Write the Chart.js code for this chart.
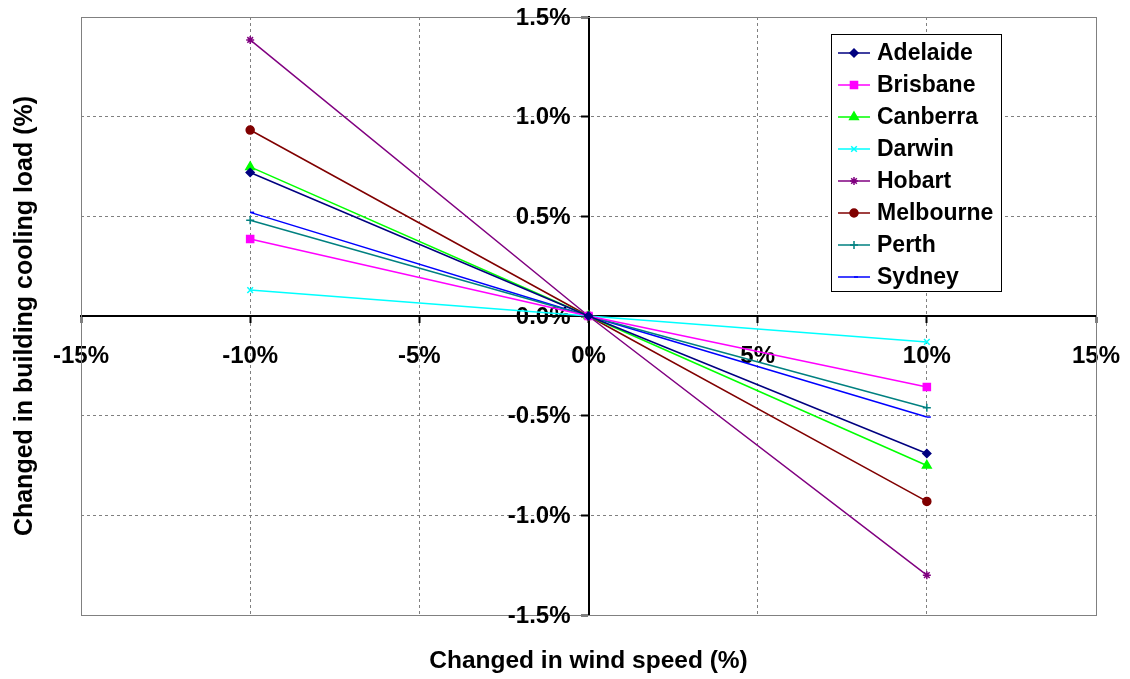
<!DOCTYPE html>
<html>
<head>
<meta charset="utf-8">
<title>Wind speed vs cooling load</title>
<script src="https://cdn.jsdelivr.net/npm/chart.js@4/dist/chart.umd.min.js"></script>
<style>
  html, body { margin: 0; padding: 0; background: #fff; }
  #wrap { width: 1130px; height: 679px; position: relative; }
</style>
</head>
<body>
<div id="wrap"><canvas id="coolingChart"></canvas></div>
<script>
// change in wind speed (%)
const windSpeed = [-10, 0, 10];

// change in building cooling load (%) per city
const adelaide = [0.72, 0, -0.69];
const brisbane = [0.386, 0, -0.356];
const canberra = [0.748, 0, -0.75];
const darwin = [0.13, 0, -0.13];
const hobart = [1.385, 0, -1.30];
const melbourne = [0.933, 0, -0.93];
const perth = [0.48, 0, -0.46];
const sydney = [0.52, 0, -0.507];

const cityNames = ["Adelaide", "Brisbane", "Canberra", "Darwin", "Hobart", "Melbourne", "Perth", "Sydney"];
const cityValues = [adelaide, brisbane, canberra, darwin, hobart, melbourne, perth, sydney];

const xTicks = [-15, -10, -5, 0, 5, 10, 15];
const yTicks = [-1.5, -1.0, -0.5, 0, 0.5, 1.0, 1.5];

// look of each series
const lineColors = ["#000080", "#ff00ff", "#00ff00", "#00ffff", "#800080", "#800000", "#008080", "#0000ff"];
const markerStyles = ["rectRot", "rect", "triangle", "crossRot", "star", "circle", "cross", "dash"];
const markerSizes = [4, 5, 5, 4, 4, 4, 4, 4];

const FONT = "'Liberation Sans', Arial, sans-serif";

function toPoints(vals) {
  return windSpeed.map((x, i) => ({ x: x, y: vals[i] }));
}

const datasets = cityNames.map((name, i) => ({
  label: name,
  data: toPoints(cityValues[i]),
  borderColor: lineColors[i],
  backgroundColor: lineColors[i],
  borderWidth: 1.5,
  pointStyle: markerStyles[i],
  pointRadius: markerSizes[i],
  pointBorderWidth: 1.5,
  showLine: true,
  tension: 0,
}));

////////// plot frame, y tick labels, axis titles and boxed legend
const extras = {
  id: "extras",
  beforeDatasetsDraw(chart) {
    const { ctx, chartArea: a } = chart;
    const xs = chart.scales.x, ys = chart.scales.y;
    ctx.save();
    ctx.strokeStyle = "#808080";
    ctx.lineWidth = 1;
    ctx.strokeRect(a.left + 0.5, a.top + 0.5, a.right - a.left, a.bottom - a.top);

    // y labels sit left of the y axis (which crosses at x = 0)
    const axisX = xs.getPixelForValue(0);
    ctx.fillStyle = "#000";
    ctx.font = "bold 24px " + FONT;
    ctx.textAlign = "right";
    ctx.textBaseline = "middle";
    ys.ticks.forEach((t) => {
      ctx.fillText(t.value.toFixed(1) + "%", axisX - 18, ys.getPixelForValue(t.value) + 1);
    });
    ctx.restore();
  },
  afterDraw(chart) {
    const { ctx, chartArea: a } = chart;
    ctx.save();
    ctx.fillStyle = "#000";
    ctx.textAlign = "center";
    ctx.textBaseline = "middle";
    ctx.font = "bold 24.5px " + FONT;
    ctx.fillText("Changed in wind speed (%)", (a.left + a.right) / 2, 661);

    ctx.font = "bold 25px " + FONT;
    ctx.translate(25, (a.top + a.bottom) / 2);
    ctx.rotate(-Math.PI / 2);
    ctx.fillText("Changed in building cooling load (%)", 0, 0);
    ctx.restore();

    // legend
    const lx = 831, ly = 34, lw = 170, lh = 257;
    ctx.save();
    ctx.fillStyle = "#fff";
    ctx.fillRect(lx, ly, lw, lh);
    ctx.strokeStyle = "#000";
    ctx.lineWidth = 1;
    ctx.strokeRect(lx + 0.5, ly + 0.5, lw, lh);
    ctx.font = "bold 23px " + FONT;
    ctx.textBaseline = "middle";
    ctx.textAlign = "left";
    chart.data.datasets.forEach((ds, i) => {
      const y = ly + 19 + i * 32;
      ctx.strokeStyle = ds.borderColor;
      ctx.lineWidth = 1.5;
      ctx.beginPath();
      ctx.moveTo(lx + 7, y);
      ctx.lineTo(lx + 39, y);
      ctx.stroke();
      ctx.fillStyle = ds.backgroundColor;
      Chart.helpers.drawPoint(ctx, {
        pointStyle: ds.pointStyle,
        radius: ds.pointRadius,
        rotation: 0,
        borderWidth: 1.5,
      }, lx + 23, y);
      ctx.fillStyle = "#000";
      ctx.fillText(ds.label, lx + 46, y + 1);
    });
    ctx.restore();
  },
};

////////////// CHART INITIALIZATION
const ctx = document.getElementById("coolingChart").getContext("2d");

new Chart(ctx, {
  type: "scatter",
  data: { datasets: datasets },
  plugins: [extras],
  options: {
    responsive: true,
    maintainAspectRatio: false,
    animation: false,
    layout: {
      padding: { left: 81, right: 34, top: 17, bottom: 64 },
    },
    scales: {
      x: {
        type: "linear",
        position: { y: 0 },
        min: -15,
        max: 15,
        afterBuildTicks: (scale) => {
          scale.ticks = xTicks.map((v) => ({ value: v }));
        },
        // edge labels may overhang, keep the plot width fixed
        afterFit: (scale) => {
          scale.paddingLeft = 0;
          scale.paddingRight = 0;
        },
        grid: {
          color: "#808080",
          lineWidth: 1,
          tickColor: "#000",
          tickWidth: 2,
          tickLength: 6,
        },
        border: { color: "#000", width: 2, dash: [3, 3] },
        ticks: {
          color: "#000",
          padding: 20,
          maxRotation: 0,
          font: { family: FONT, size: 24, weight: "bold" },
          callback: (v) => v + "%",
        },
      },
      y: {
        type: "linear",
        position: { x: 0 },
        min: -1.5,
        max: 1.5,
        afterBuildTicks: (scale) => {
          scale.ticks = yTicks.map((v) => ({ value: v }));
        },
        grid: {
          color: "#808080",
          lineWidth: 1,
          tickColor: "#000",
          tickWidth: 2,
          tickLength: 7,
        },
        border: { color: "#000", width: 2, dash: [3, 3] },
        ticks: { display: false },
      },
    },
    plugins: {
      legend: { display: false },
      tooltip: { enabled: false },
    },
  },
});
</script>
</body>
</html>
